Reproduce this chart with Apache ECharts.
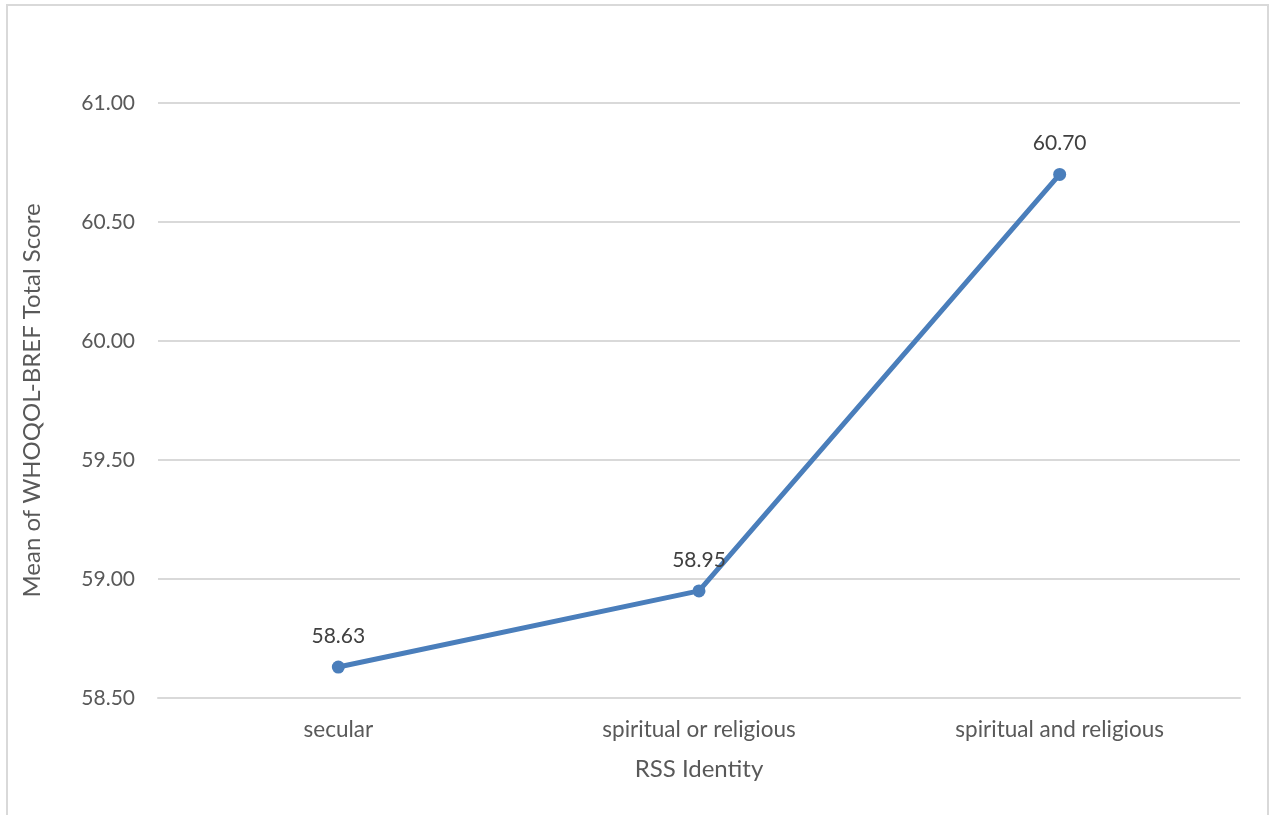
<!DOCTYPE html>
<html><head><meta charset="utf-8">
<script src="https://cdn.jsdelivr.net/npm/echarts@6/dist/echarts.min.js"></script>
<style>html,body{margin:0;padding:0;background:#fff;}#c{width:1277px;height:815px;}</style>
</head><body><div id="c"></div>
<script>
const categories = ['secular', 'spiritual or religious', 'spiritual and religious'];
const meanScores = [58.63, 58.95, 60.70];
const xAxisTitle = 'RSS Identity';
const yAxisTitle = 'Mean of WHOQOL-BREF Total Score';

const chart = echarts.init(document.getElementById('c'));
const font = 'Lato, Open Sans, sans-serif';
chart.setOption({
  animation: false,
  backgroundColor: '#fff',
  graphic: [{
    type: 'rect', shape: {x: 7, y: 5, width: 1261, height: 830},
    style: {fill: 'none', stroke: '#d9d9d9', lineWidth: 2}, z: -1
  }],
  grid: {left: 158, right: 37, top: 103, bottom: 117},
  xAxis: {
    type: 'category', data: categories, boundaryGap: true,
    name: xAxisTitle, nameLocation: 'middle', nameGap: 59,
    nameTextStyle: {fontFamily: font, fontSize: 24, color: '#595959'},
    axisLine: {lineStyle: {color: '#d9d9d9', width: 2}},
    axisTick: {show: false},
    axisLabel: {fontFamily: font, fontSize: 22.5, color: '#595959', margin: 20}
  },
  yAxis: {
    type: 'value', min: 58.5, max: 61, interval: 0.5,
    name: yAxisTitle, nameLocation: 'middle', nameGap: 114,
    nameTextStyle: {fontFamily: font, fontSize: 24, color: '#595959'},
    axisLine: {show: false}, axisTick: {show: false},
    splitLine: {lineStyle: {color: '#d9d9d9', width: 2}},
    axisLabel: {fontFamily: font, fontSize: 21, color: '#595959', margin: 23,
      formatter: v => v.toFixed(2)}
  },
  series: [{
    type: 'line', data: meanScores,
    lineStyle: {color: '#4a7ebb', width: 5},
    itemStyle: {color: '#4a7ebb'},
    symbol: 'circle', symbolSize: 13,
    label: {show: true, position: 'top', distance: 14,
      fontFamily: font, fontSize: 21, color: '#404040',
      formatter: p => p.value.toFixed(2)}
  }]
});
</script></body></html>
